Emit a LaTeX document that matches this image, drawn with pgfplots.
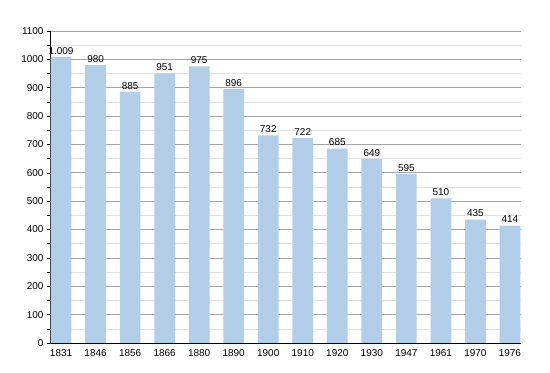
\documentclass[border=0pt]{standalone}
\usepackage{pgfplots}
\usepackage{pgfplotstable}
\pgfplotsset{compat=1.18}
\usetikzlibrary{calc}
\usepackage{fontspec}
\setmainfont{Liberation Sans}
\definecolor{barblue}{RGB}{178,205,231}
\definecolor{majgrid}{RGB}{165,165,165}
\definecolor{mingrid}{RGB}{225,225,225}
\pgfplotstableread{
x y lab
0 1009 1.009
1 980 980
2 885 885
3 951 951
4 975 975
5 896 896
6 732 732
7 722 722
8 685 685
9 649 649
10 595 595
11 510 510
12 435 435
13 414 414
}\data
\begin{document}
\begin{tikzpicture}[x=1bp,y=1bp]
\begin{axis}[
  scale only axis,
  width=471bp, height=312bp,
  xmin=-0.32, xmax=13.32,
  ymin=0, ymax=1100,
  axis x line*=bottom, axis y line*=left,
  axis line style={black, line width=0.8pt},
  xtick=data,
  xticklabels={1831,1846,1856,1866,1880,1890,1900,1910,1920,1930,1947,1961,1970,1976},
  x tick style={draw=none},
  ytick={0,100,...,1100},
  minor y tick num=1,
  y tick style={black, line width=0.5pt},
  tick align=outside,
  major tick length=3bp, minor tick length=3bp,
  ymajorgrids, yminorgrids,
  major grid style={majgrid, line width=0.7pt},
  minor grid style={mingrid, line width=0.6pt},
  tick label style={font=\fontsize{10}{11}\selectfont},
  /pgf/number format/assume math mode=true,
  /pgf/number format/1000 sep={},
  nodes near coords,
  point meta=explicit symbolic,
  every node near coord/.append style={font=\fontsize{10}{11}\selectfont, inner sep=2.5bp},
  axis on top=false,
]
\addplot[ybar, bar width=0.6, fill=barblue, draw=none] table[x=x, y=y, meta=lab] {\data};
\end{axis}
\path[use as bounding box] ($(current axis.south west)+(-50bp,-30bp)$) rectangle ($(current axis.north east)+(29bp,31bp)$);
\end{tikzpicture}
\end{document}
